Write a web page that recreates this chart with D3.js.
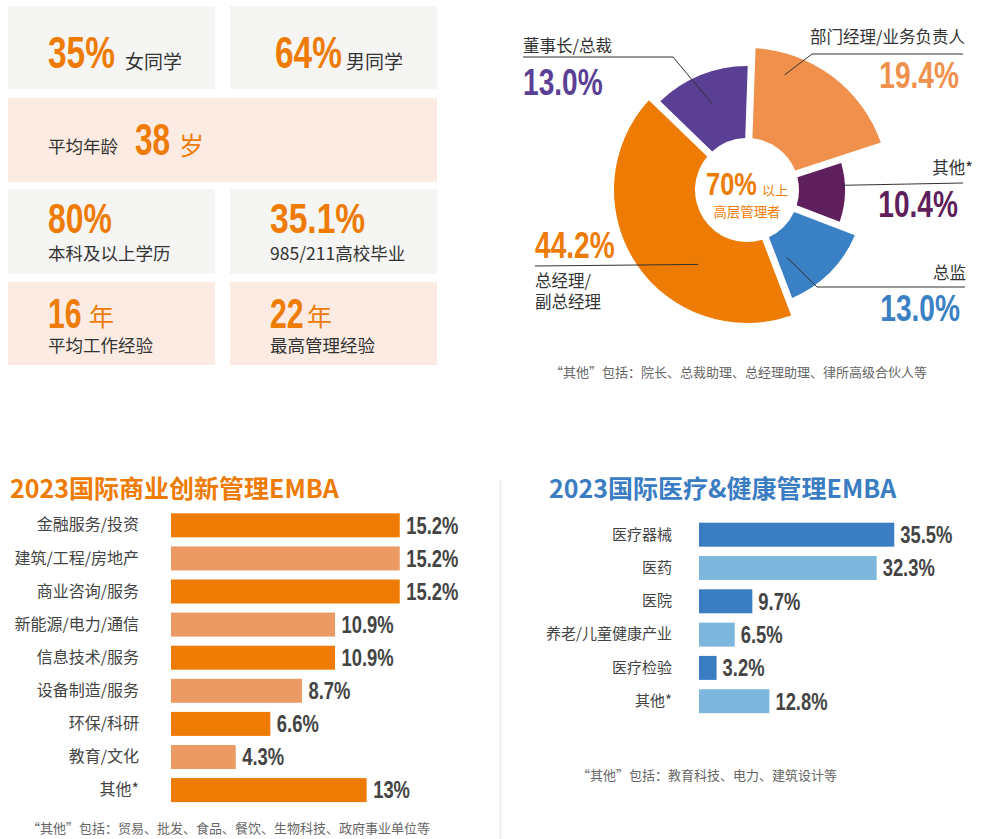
<!DOCTYPE html>
<html>
<head>
<meta charset="utf-8">
<script src="https://cdn.jsdelivr.net/npm/d3@7"></script>
<style>
  body { margin: 0; background: #fff; }
  svg text { font-family: "Noto Sans CJK SC", "Noto Sans", sans-serif; }
  svg text.num { font-family: "Liberation Sans", Arial, sans-serif; font-weight: bold; }
</style>
</head>
<body>
<div id="chart"></div>
<script>
// ---- data ----
const cardNums   = ["35%", "64%", "38", "80%", "35.1%", "16", "22"];
const cardUnits  = ["女同学", "男同学", "岁", "", "", "年", "年"];
const cardLabels = ["", "", "平均年龄", "本科及以上学历", "985/211高校毕业", "平均工作经验", "最高管理经验"];

const roleNames  = ["部门经理/业务负责人", "其他*", "总监", "总经理/副总经理", "董事长/总裁"];
const roleShares = [19.4, 10.4, 13.0, 44.2, 13.0];
const roleRadius = [142, 98, 117, 133, 124];   // outer radius of each slice (design)

const bizSectors = ["金融服务/投资", "建筑/工程/房地产", "商业咨询/服务", "新能源/电力/通信", "信息技术/服务", "设备制造/服务", "环保/科研", "教育/文化", "其他*"];
const bizShares  = [15.2, 15.2, 15.2, 10.9, 10.9, 8.7, 6.6, 4.3, 13];
const bizLabels  = ["15.2%", "15.2%", "15.2%", "10.9%", "10.9%", "8.7%", "6.6%", "4.3%", "13%"];

const medSectors = ["医疗器械", "医药", "医院", "养老/儿童健康产业", "医疗检验", "其他*"];
const medShares  = [35.5, 32.3, 9.7, 6.5, 3.2, 12.8];

const W = 981, H = 839;
const ORANGE = "#ee7b03", PEACH = "#ec9a64", DARK = "#444";

const svg = d3.select("#chart").append("svg")
    .attr("width", W).attr("height", H);

// ---- stat cards ----
const cards = [
  {x: 8,   y: 6,   w: 207, h: 83, bg: "#f5f5f4"},
  {x: 230, y: 6,   w: 207, h: 83, bg: "#f5f5f4"},
  {x: 8,   y: 98,  w: 429, h: 84, bg: "#fcebe3"},
  {x: 8,   y: 189, w: 207, h: 85, bg: "#f5f5f4"},
  {x: 230, y: 189, w: 207, h: 85, bg: "#f5f5f4"},
  {x: 8,   y: 282, w: 207, h: 83, bg: "#fcebe3"},
  {x: 230, y: 282, w: 207, h: 83, bg: "#fcebe3"}
];
svg.selectAll("rect.card").data(cards).enter().append("rect")
  .attr("class", "card")
  .attr("x", d => d.x).attr("y", d => d.y)
  .attr("width", d => d.w).attr("height", d => d.h)
  .attr("fill", d => d.bg);

// condensed numerals: no condensed font installed, so squeeze horizontally
function numText(x, y, s, size, sx) {
  return svg.append("text").attr("class", "num")
    .attr("transform", `translate(${x},${y}) scale(${sx || 0.76},1)`)
    .attr("fill", ORANGE)
    .style("font-size", size + "px").text(s);
}
function cjk(x, y, s, size, color, anchor) {
  return svg.append("text").attr("x", x).attr("y", y)
    .attr("fill", color || "#333").attr("text-anchor", anchor || "start")
    .style("font-size", size + "px").text(s);
}

numText(48, 68, cardNums[0], 44);
cjk(125, 69, cardUnits[0], 19);
numText(275, 68, cardNums[1], 44);
cjk(346, 69, cardUnits[1], 19);

cjk(48, 153, cardLabels[2], 17.5);
numText(135, 155, cardNums[2], 44, 0.72);
cjk(179, 155, cardUnits[2], 25, ORANGE);

numText(48, 233, cardNums[3], 42);
cjk(48, 260, cardLabels[3], 17.5);
numText(270, 233, cardNums[4], 42, 0.8);
cjk(270, 260, cardLabels[4], 17.5);

numText(48, 328, cardNums[5], 42, 0.72);
cjk(89, 326, cardUnits[5], 25, ORANGE);
cjk(48, 352, cardLabels[5], 17.5);
numText(270, 328, cardNums[6], 42, 0.72);
cjk(307, 326, cardUnits[6], 25, ORANGE);
cjk(270, 352, cardLabels[6], 17.5);

// ---- donut ----
const cx = 747, cy = 190;
const roleColors = ["#ef914c", "#5f1f5c", "#3a80c5", "#ee7b03", "#5a3f95"];
const off = 2 * Math.PI / 180;
const pie = d3.pie().sort(null).startAngle(off).endAngle(2 * Math.PI + off).padAngle(0.06);
const arcs = pie(roleShares);
const arc = d3.arc().innerRadius(52).padRadius(120);

const donut = svg.append("g").attr("transform", `translate(${cx},${cy})`);
donut.selectAll("path").data(arcs).enter().append("path")
  .attr("d", (d, i) => arc.outerRadius(roleRadius[i])(d))
  .attr("fill", (d, i) => roleColors[i]);

numText(706, 195, "70%", 31, 0.82);
cjk(762, 195, "以上", 13, ORANGE);
cjk(cx, 217, "高层管理者", 13.4, ORANGE, "middle");

// label callouts: anchor inside slice (fraction of angle, radius), then elbow and label
const callouts = [
  {i: 0, t: 0.23, r: 121, elbow: [812, 54], end: [963, 54], name: [965, 43, "end"], val: [959, 88, "end"]},
  {i: 1, t: 0.39, r: 96,  elbow: null,      end: [963, 183], name: [973, 174, "end"], val: [958, 217, "end"]},
  {i: 2, t: 0.8,  r: 78,  elbow: [817, 287], end: [965, 287], name: [966, 279, "end"], val: [960, 321, "end"]},
  {i: 3, t: 0.35, r: 89,  elbow: null,      end: [535, 266], name: [535, 287, "start"], val: [535, 258, "start"]},
  {i: 4, t: 0.5,  r: 93,  elbow: [673, 57], end: [523, 57], name: [523, 52, "start"], val: [523, 95, "start"]}
];
callouts.forEach(c => {
  const a = arcs[c.i];
  const ang = a.startAngle + c.t * (a.endAngle - a.startAngle);
  const p = d3.pointRadial(ang, c.r);
  const pts = [[cx + p[0], cy + p[1]]];
  if (c.elbow) pts.push(c.elbow);
  pts.push(c.end);
  svg.append("path").attr("d", d3.line()(pts))
    .attr("fill", "none").attr("stroke", "#333").attr("stroke-width", 1);
  const nm = roleNames[c.i];
  if (c.i === 3) {
    cjk(c.name[0], c.name[1], "总经理/", 16.5);
    cjk(c.name[0], c.name[1] + 21, "副总经理", 16.5);
  } else {
    cjk(c.name[0], c.name[1], nm, 16.5, "#333", c.name[2]);
  }
  numText(c.val[0], c.val[1], roleShares[c.i].toFixed(1) + "%", 37, 0.76)
    .attr("fill", roleColors[c.i]).attr("text-anchor", c.val[2]);
});

cjk(550, 377, "“其他”包括：院长、总裁助理、总经理助理、律所高级合伙人等", 13, "#666");

// ---- divider ----
svg.append("line").attr("x1", 500.5).attr("x2", 500.5).attr("y1", 480).attr("y2", H)
  .attr("stroke", "#eeeeee").attr("stroke-width", 2);

// ---- bar chart: business EMBA ----
svg.append("text").attr("x", 10).attr("y", 498).attr("fill", ORANGE)
  .style("font-size", "25px").style("font-weight", "bold")
  .text("2023国际商业创新管理EMBA");

const bx = d3.scaleLinear().domain([0, 20]).range([171, 472]);
const by = d3.scaleBand().domain(bizSectors)
  .range([513.3, 513.3 + 33.1 * 8 + 24]).paddingInner(0.275).paddingOuter(0);

const bizG = svg.append("g");
bizG.selectAll("rect").data(bizShares).enter().append("rect")
  .attr("x", bx(0))
  .attr("y", (d, i) => by(bizSectors[i]))
  .attr("width", d => bx(d) - bx(0))
  .attr("height", by.bandwidth())
  .attr("fill", (d, i) => i % 2 === 0 ? ORANGE : PEACH);

bizG.append("g").attr("transform", `translate(${bx(0) - 32},0)`)
  .call(d3.axisLeft(by).tickSize(0).tickPadding(0))
  .call(g => g.select(".domain").remove())
  .selectAll("text").attr("fill", DARK)
  .style("font-size", "16px").style("font-family", "'Noto Sans CJK SC'");

bizG.selectAll("text.val").data(bizShares).enter().append("text")
  .attr("class", "num val")
  .attr("transform", (d, i) =>
    `translate(${bx(d) + 6.5},${by(bizSectors[i]) + by.bandwidth() / 2 + 8.3}) scale(0.8,1)`)
  .attr("fill", DARK).style("font-size", "23px")
  .text((d, i) => bizLabels[i]);

cjk(27, 833, "“其他”包括：贸易、批发、食品、餐饮、生物科技、政府事业单位等", 13, "#666");

// ---- bar chart: medical EMBA ----
const BLUE = "#3a7dc3", LBLUE = "#7db7de";
svg.append("text").attr("x", 549).attr("y", 498).attr("fill", BLUE)
  .style("font-size", "25px").style("font-weight", "bold")
  .text("2023国际医疗&健康管理EMBA");

const mx = d3.scaleLinear().domain([0, 40]).range([699, 919]);
const my = d3.scaleBand().domain(medSectors)
  .range([522.7, 522.7 + 33.3 * 5 + 24]).paddingInner(0.28).paddingOuter(0);

const medG = svg.append("g");
medG.selectAll("rect").data(medShares).enter().append("rect")
  .attr("x", mx(0))
  .attr("y", (d, i) => my(medSectors[i]))
  .attr("width", d => mx(d) - mx(0))
  .attr("height", my.bandwidth())
  .attr("fill", (d, i) => i % 2 === 0 ? BLUE : LBLUE);

medG.append("g").attr("transform", `translate(${mx(0) - 27},0)`)
  .call(d3.axisLeft(my).tickSize(0).tickPadding(0))
  .call(g => g.select(".domain").remove())
  .selectAll("text").attr("fill", DARK)
  .style("font-size", "15px").style("font-family", "'Noto Sans CJK SC'");

medG.selectAll("text.val").data(medShares).enter().append("text")
  .attr("class", "num val")
  .attr("transform", (d, i) =>
    `translate(${mx(d) + 6},${my(medSectors[i]) + my.bandwidth() / 2 + 8.3}) scale(0.8,1)`)
  .attr("fill", DARK).style("font-size", "23px")
  .text(d => d.toFixed(1) + "%");

cjk(577, 780, "“其他”包括：教育科技、电力、建筑设计等", 13, "#666");
</script>
</body>
</html>
